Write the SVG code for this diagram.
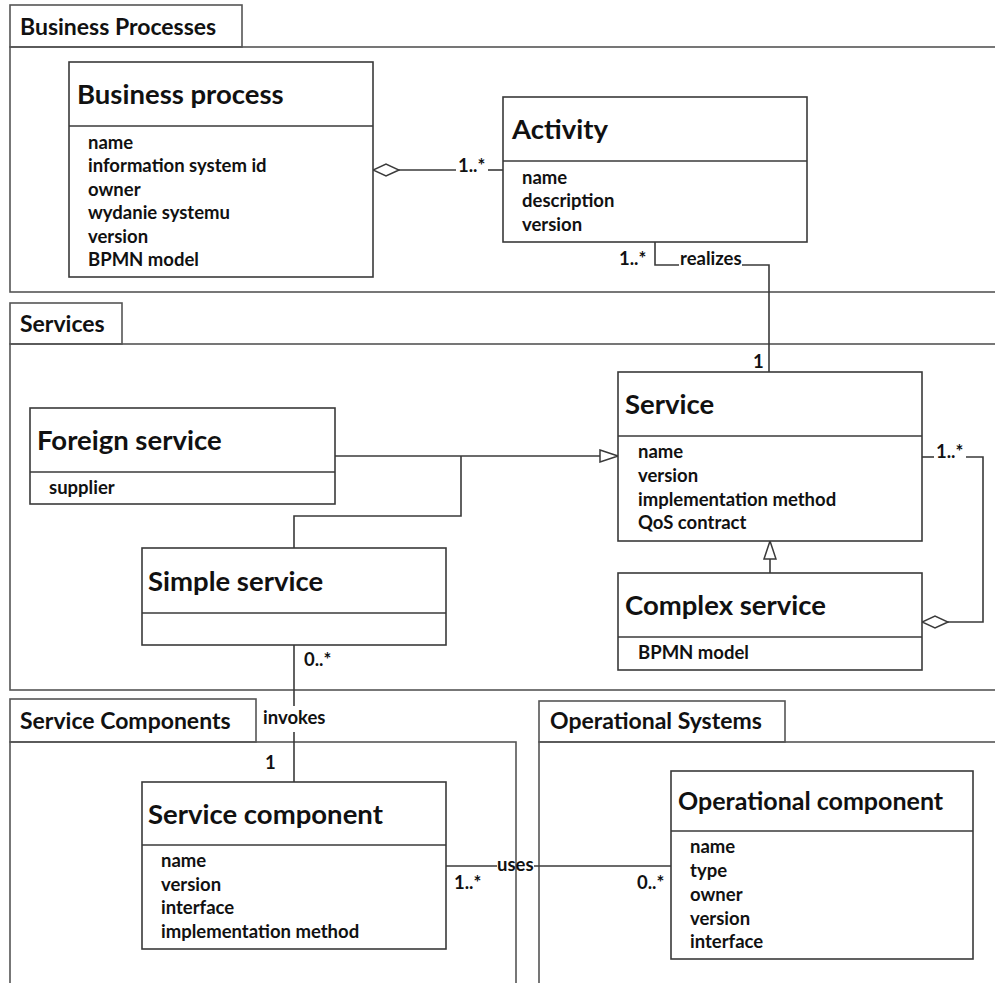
<svg xmlns="http://www.w3.org/2000/svg" width="995" height="983" viewBox="0 0 995 983">
<style>
.pkg{fill:none;stroke:#555;stroke-width:1.6}
.box{fill:#fff;stroke:#3a3a3a;stroke-width:1.6}
.ln{fill:none;stroke:#3a3a3a;stroke-width:1.6}
text{font-family:Lato,"Open Sans","Liberation Sans",sans-serif;font-weight:bold;fill:#111}
.pl{font-size:23px}
.t{font-size:27.5px}
.a{font-size:18.5px}
.m{font-size:18.5px}
</style>
<defs>
<marker id="gen" viewBox="0 0 20 14" refX="19" refY="7" markerWidth="20" markerHeight="14" markerUnits="userSpaceOnUse" orient="auto">
<path d="M1,1 L19,7 L1,13 Z" fill="#fff" stroke="#3a3a3a" stroke-width="1.5"/>
</marker>
<marker id="agg" viewBox="0 0 28 14" refX="27" refY="7" markerWidth="28" markerHeight="14" markerUnits="userSpaceOnUse" orient="auto">
<path d="M1,7 L14,1 L27,7 L14,13 Z" fill="#fff" stroke="#3a3a3a" stroke-width="1.5"/>
</marker>
</defs>

<g id="pkg-business-processes">
<rect class="pkg" x="10" y="5" width="232" height="42"/>
<rect class="pkg" x="10" y="47" width="1000" height="245"/>
<text class="pl" x="20" y="35">Business Processes</text>
</g>
<g id="pkg-services">
<rect class="pkg" x="10" y="303" width="112" height="41"/>
<rect class="pkg" x="10" y="344" width="1000" height="346"/>
<text class="pl" x="20" y="332">Services</text>
</g>
<g id="pkg-service-components">
<rect class="pkg" x="10" y="699" width="246" height="43"/>
<rect class="pkg" x="10" y="742" width="506" height="300"/>
<text class="pl" x="20" y="729">Service Components</text>
</g>
<g id="pkg-operational-systems">
<rect class="pkg" x="539" y="701" width="246" height="41"/>
<rect class="pkg" x="539" y="742" width="500" height="300"/>
<text class="pl" x="550" y="729">Operational Systems</text>
</g>

<g id="connectors">
<!-- Business process <>- Activity -->
<path class="ln" d="M503,170 H488"/>
<path class="ln" d="M456,170 H373" marker-end="url(#agg)"/>
<text class="m" x="458" y="172">1..*</text>
<!-- realizes -->
<path class="ln" d="M655,242 V265 H679"/>
<path class="ln" d="M742,265 H769 V372"/>
<text class="a" x="680" y="265">realizes</text>
<text class="m" x="619" y="265">1..*</text>
<text class="m" x="753" y="368">1</text>
<!-- Foreign / Simple generalization -->
<path class="ln" d="M335,456 H618" marker-end="url(#gen)"/>
<path class="ln" d="M294,548 V516 H461 V456"/>
<!-- Complex generalization -->
<path class="ln" d="M770,573 V541" marker-end="url(#gen)"/>
<!-- Complex <>- Service -->
<path class="ln" d="M922,457 H934"/>
<path class="ln" d="M966,457 H983 V622 H922" marker-end="url(#agg)"/>
<text class="m" x="936" y="458">1..*</text>
<!-- invokes -->
<path class="ln" d="M294,645 V706"/>
<path class="ln" d="M294,732 V782"/>
<text class="a" x="263" y="724">invokes</text>
<text class="m" x="304" y="666">0..*</text>
<text class="m" x="265" y="769">1</text>
<!-- uses -->
<path class="ln" d="M446,866 H497"/>
<path class="ln" d="M534,866 H671"/>
<text class="a" x="497" y="871">uses</text>
<text class="m" x="454" y="889">1..*</text>
<text class="m" x="637" y="889">0..*</text>
</g>

<g id="business-process">
<rect class="box" x="69" y="62" width="304" height="215"/>
<line class="ln" x1="69" y1="126" x2="373" y2="126"/>
<text class="t" x="77" y="104">Business process</text>
<text class="a" x="88" y="149">name</text>
<text class="a" x="88" y="172">information system id</text>
<text class="a" x="88" y="196">owner</text>
<text class="a" x="88" y="219">wydanie systemu</text>
<text class="a" x="88" y="243">version</text>
<text class="a" x="88" y="266">BPMN model</text>
</g>

<g id="activity">
<rect class="box" x="503" y="97" width="304" height="145"/>
<line class="ln" x1="503" y1="161" x2="807" y2="161"/>
<text class="t" x="512" y="139">Activity</text>
<text class="a" x="522" y="184">name</text>
<text class="a" x="522" y="207">description</text>
<text class="a" x="522" y="231">version</text>
</g>

<g id="foreign-service">
<rect class="box" x="30" y="408" width="305" height="96"/>
<line class="ln" x1="30" y1="472" x2="335" y2="472"/>
<text class="t" x="37" y="450">Foreign service</text>
<text class="a" x="49" y="494">supplier</text>
</g>

<g id="simple-service">
<rect class="box" x="142" y="548" width="304" height="97"/>
<line class="ln" x1="142" y1="613" x2="446" y2="613"/>
<text class="t" x="148" y="591">Simple service</text>
</g>

<g id="service">
<rect class="box" x="618" y="372" width="304" height="169"/>
<line class="ln" x1="618" y1="436" x2="922" y2="436"/>
<text class="t" x="625" y="414">Service</text>
<text class="a" x="638" y="458">name</text>
<text class="a" x="638" y="482">version</text>
<text class="a" x="638" y="506">implementation method</text>
<text class="a" x="638" y="529">QoS contract</text>
</g>

<g id="complex-service">
<rect class="box" x="618" y="573" width="304" height="97"/>
<line class="ln" x1="618" y1="637" x2="922" y2="637"/>
<text class="t" x="625" y="615">Complex service</text>
<text class="a" x="638" y="659">BPMN model</text>
</g>

<g id="service-component">
<rect class="box" x="142" y="782" width="304" height="167"/>
<line class="ln" x1="142" y1="845" x2="446" y2="845"/>
<text class="t" x="148" y="824">Service component</text>
<text class="a" x="161" y="867">name</text>
<text class="a" x="161" y="891">version</text>
<text class="a" x="161" y="914">interface</text>
<text class="a" x="161" y="938">implementation method</text>
</g>

<g id="operational-component">
<rect class="box" x="671" y="771" width="302" height="188"/>
<line class="ln" x1="671" y1="831" x2="973" y2="831"/>
<text class="t" x="678" y="810" style="font-size:25px">Operational component</text>
<text class="a" x="690" y="853">name</text>
<text class="a" x="690" y="877">type</text>
<text class="a" x="690" y="901">owner</text>
<text class="a" x="690" y="925">version</text>
<text class="a" x="690" y="948">interface</text>
</g>
</svg>
